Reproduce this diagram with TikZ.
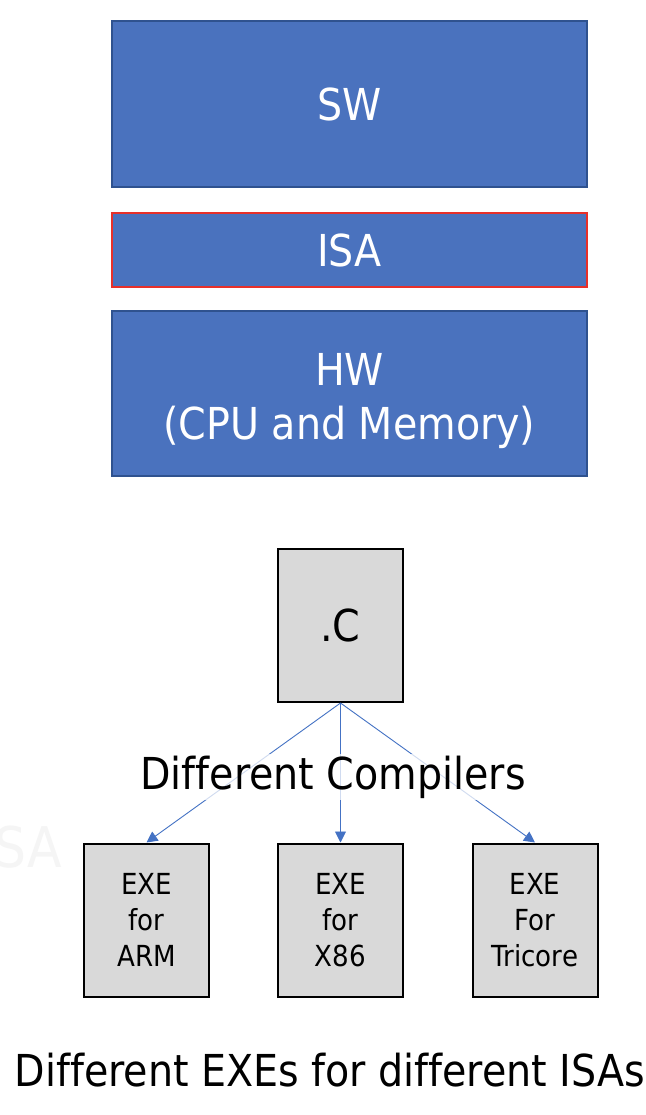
\documentclass[tikz,border=0pt]{standalone}
\usepackage{fontspec}
\setmainfont{DejaVu Sans Condensed}[Ligatures=NoCommon]
\usetikzlibrary{arrows.meta}
\definecolor{boxblue}{HTML}{4A72BE}
\definecolor{boxedge}{HTML}{2F528F}
\definecolor{isared}{HTML}{E8302A}
\definecolor{srcgray}{HTML}{D9D9D9}
\definecolor{linkblue}{HTML}{4472C4}
\definecolor{ghost}{HTML}{F5F5F5}
\begin{document}
\begin{tikzpicture}[x=1pt,y=-1pt,
  layer/.style={draw=boxedge, line width=1.2pt, fill=boxblue, text=white,
    minimum width=475pt, inner sep=0pt, align=center,
    font=\fontsize{44}{54}\selectfont},
  layertext/.style={text=white, inner sep=0pt, align=center,
    font=\fontsize{44}{54}\selectfont},
  filebox/.style={draw=black, line width=2pt, fill=srcgray, inner sep=0pt,
    minimum width=125pt, minimum height=153pt, align=center},
  exetext/.style={font=\fontsize{29}{36}\selectfont},
  link/.style={draw=linkblue, line width=0.9pt, -{Triangle[length=11pt,width=11pt]}},
  caption/.style={inner sep=0pt, font=\fontsize{44}{54}\selectfont}]
\useasboundingbox (0,0) rectangle (645,1115);
\fill[white] (0,0) rectangle (645,1115);
% layers
\node[layer, minimum height=166pt] (sw) at (349.5,104) {SW};
\node[layer, draw=isared, line width=2.4pt, minimum height=74pt] (isa) at (349.5,250) {ISA};
\node[layer, minimum height=165pt] (hw) at (349.5,393.5) {};
\node[layertext] (hwtext) at (349.5,401) {HW\\(CPU and Memory)};
% ghost text
\node[caption, text=ghost, font=\fontsize{56}{60}\selectfont, anchor=base west] (ghosttext) at (-6,867) {SA};
% source and executables
\node[filebox, font=\fontsize{44}{54}\selectfont] (src) at (340.5,625.5) {.C};
\node[filebox, exetext] (arm) at (146.5,920) {EXE\\for\\ARM};
\node[filebox, exetext] (x86) at (340.5,920) {EXE\\for\\X86};
\node[filebox, exetext] (tri) at (535,920) {EXE\\For\\Tricore};
% connectors
\draw[link] (src.south) -- (arm.north);
\draw[link] (src.south) -- (x86.north);
\draw[link] (src.south) -- (tri.north);
% labels
\node[caption, fill=white, fill opacity=0.75, text opacity=1, inner sep=2pt] (comp) at (333,777) {Different Compilers};
\node[caption] (bottom) at (330,1070) {Different EXEs for different ISAs};
\end{tikzpicture}
\end{document}
